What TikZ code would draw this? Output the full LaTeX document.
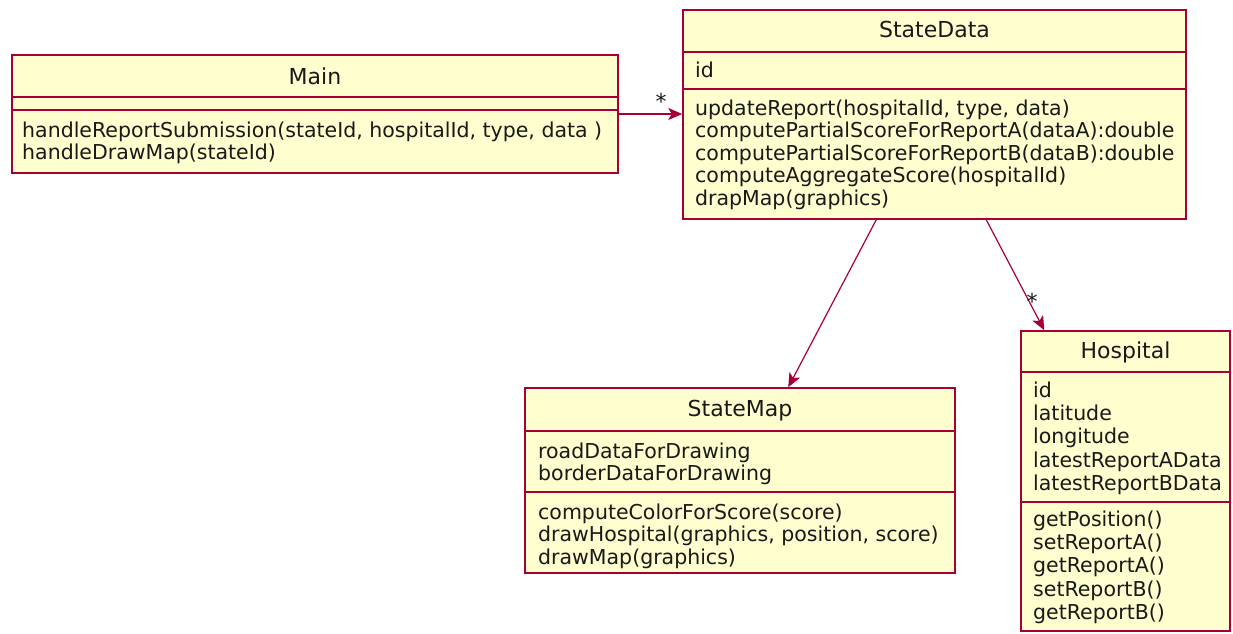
\documentclass[tikz,border=0pt]{standalone}
\usepackage{fontspec}
\setmainfont{DejaVu Sans}
\usetikzlibrary{arrows.meta}
\definecolor{umlborder}{HTML}{A80036}
\definecolor{umlfill}{HTML}{FEFECE}
\tikzset{
  classbox/.style={draw=umlborder, fill=umlfill, line width=1.5pt, rectangle, inner sep=0pt},
  sepline/.style={draw=umlborder, line width=1.5pt},
  classtitle/.style={font=\fontsize{22}{26}\selectfont, inner sep=0pt, anchor=base, text=black!90},
  member/.style={font=\fontsize{20.5}{23}\selectfont, inner sep=0pt, anchor=base west, text=black!90},
  assoc/.style={draw=umlborder, line width=1.2pt, -{Stealth[inset=3.5pt,length=14pt,width=12pt]}},
  multlabel/.style={font=\fontsize{22}{22}\selectfont, inner sep=0pt, text=black!90}
}
\begin{document}
\begin{tikzpicture}[x=1pt,y=-1pt]
\useasboundingbox (0,0) rectangle (1233,633);
% ---------- Main ----------
\node[classbox, minimum width=606pt, minimum height=118pt] (main) at (315,114) {};
\node[classtitle] (mainT) at (315,84) {Main};
\draw[sepline] (main.west |- 0,97) -- (main.east |- 0,97);
\draw[sepline] (main.west |- 0,110) -- (main.east |- 0,110);
\node[member] (mainM1) at (22,137) {handleReportSubmission(stateId, hospitalId, type, data )};
\node[member] (mainM2) at (22,159) {handleDrawMap(stateId)};
% ---------- StateData ----------
\node[classbox, minimum width=503pt, minimum height=209pt] (sd) at (934.5,114.5) {};
\node[classtitle] (sdT) at (934.5,37) {StateData};
\draw[sepline] (sd.west |- 0,52) -- (sd.east |- 0,52);
\node[member] (sdA1) at (695,77) {id};
\draw[sepline] (sd.west |- 0,89) -- (sd.east |- 0,89);
\node[member] (sdM1) at (695,115) {updateReport(hospitalId, type, data)};
\node[member] (sdM2) at (695,137.5) {computePartialScoreForReportA(dataA):double};
\node[member] (sdM3) at (695,160) {computePartialScoreForReportB(dataB):double};
\node[member] (sdM4) at (695,182.5) {computeAggregateScore(hospitalId)};
\node[member] (sdM5) at (695,205) {drapMap(graphics)};
% ---------- StateMap ----------
\node[classbox, minimum width=430pt, minimum height=185pt] (sm) at (740,480.5) {};
\node[classtitle] (smT) at (740,416) {StateMap};
\draw[sepline] (sm.west |- 0,431) -- (sm.east |- 0,431);
\node[member] (smA1) at (538,458) {roadDataForDrawing};
\node[member] (smA2) at (538,480.5) {borderDataForDrawing};
\draw[sepline] (sm.west |- 0,492) -- (sm.east |- 0,492);
\node[member] (smM1) at (538,519) {computeColorForScore(score)};
\node[member] (smM2) at (538,541.5) {drawHospital(graphics, position, score)};
\node[member] (smM3) at (538,564) {drawMap(graphics)};
% ---------- Hospital ----------
\node[classbox, minimum width=209pt, minimum height=300pt] (hosp) at (1125.5,481) {};
\node[classtitle] (hospT) at (1125.5,358) {Hospital};
\draw[sepline] (hosp.west |- 0,372) -- (hosp.east |- 0,372);
\node[member] (hA1) at (1033,397) {id};
\node[member] (hA2) at (1033,420) {latitude};
\node[member] (hA3) at (1033,443.5) {longitude};
\node[member] (hA4) at (1033,467) {latestReportAData};
\node[member] (hA5) at (1033,490) {latestReportBData};
\draw[sepline] (hosp.west |- 0,502) -- (hosp.east |- 0,502);
\node[member] (hM1) at (1033,526) {getPosition()};
\node[member] (hM2) at (1033,549.5) {setReportA()};
\node[member] (hM3) at (1033,572.5) {getReportA()};
\node[member] (hM4) at (1033,596) {setReportB()};
\node[member] (hM5) at (1033,619) {getReportB()};
% ---------- Associations ----------
\draw[assoc] (main.east) -- (main.east -| sd.west);
\node[multlabel] (m1) at (661,101) {*};
\draw[assoc] ([xshift=194pt]sd.south west) -- ([xshift=264pt]sm.north west);
\draw[assoc] ([xshift=304pt]sd.south west) -- ([xshift=24pt]hosp.north west);
\node[multlabel] (m2) at (1032,301) {*};
\end{tikzpicture}
\end{document}
